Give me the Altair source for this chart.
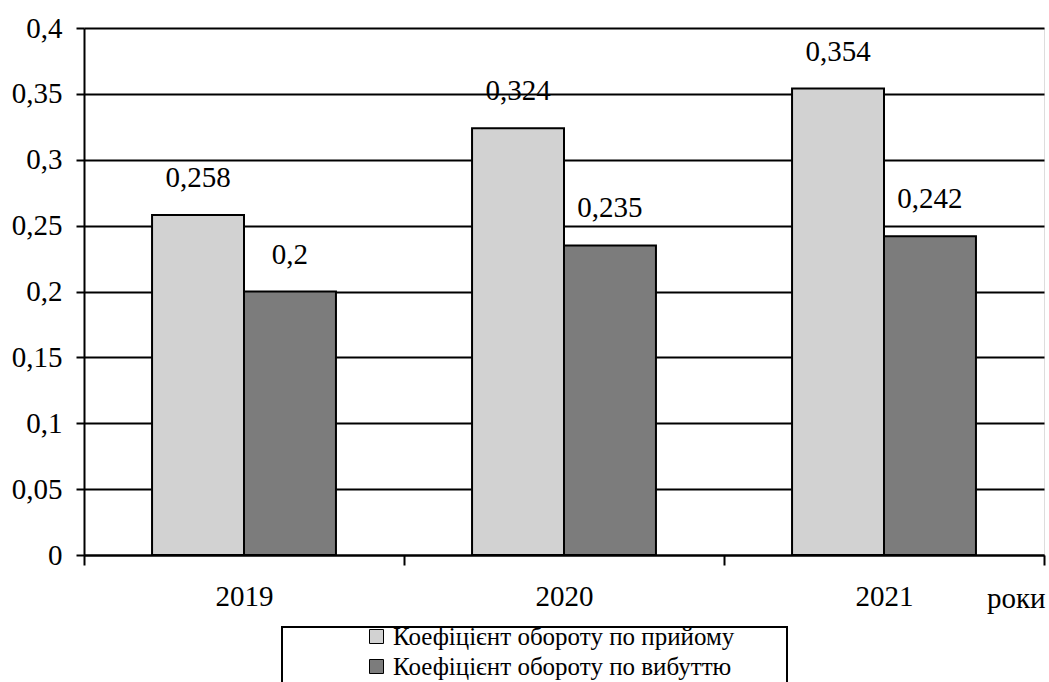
import altair as alt
import pandas as pd

years = ["2019", "2020", "2021"]
series = ["Коефіцієнт обороту по прийому", "Коефіцієнт обороту по вибуттю"]
intake = [0.258, 0.324, 0.354]
leaving = [0.2, 0.235, 0.242]
y_ticks = [0, 0.05, 0.1, 0.15, 0.2, 0.25, 0.3, 0.35, 0.4]

rows = []
for i, yr in enumerate(years):
    for s, vals in zip(series, [intake, leaving]):
        rows.append({"year": yr, "series": s, "value": vals[i],
                     "label": str(vals[i]).replace(".", ",")})
df = pd.DataFrame(rows)

FONT = "Liberation Serif, Times New Roman, serif"
FS = 29

x_enc = alt.X("year:N", sort=years, title="роки",
              scale=alt.Scale(paddingInner=0, paddingOuter=0),
              axis=alt.Axis(labelAngle=0, labelFont=FONT, labelFontSize=FS,
                            labelColor="black", labelPadding=17,
                            tickSize=10, tickColor="black", tickWidth=2,
                            tickBand="extent", domainColor="black", domainWidth=2,
                            titleFont=FONT, titleFontSize=FS, titleFontWeight="normal",
                            titleColor="black", titleX=961, titleY=52,
                            titleAlign="right", titleBaseline="alphabetic"))
xo_enc = alt.XOffset("series:N", sort=series,
                     scale=alt.Scale(paddingInner=0, paddingOuter=0.74))
y_enc = alt.Y("value:Q", title=None,
              scale=alt.Scale(domain=[0, 0.4], nice=False),
              axis=alt.Axis(values=y_ticks,
                            labelExpr="replace(format(datum.value, '.2~f'), '.', ',')",
                            labelFont=FONT, labelFontSize=FS, labelColor="black",
                            labelPadding=14, tickSize=8, tickColor="black", tickWidth=2,
                            grid=True, gridColor="black", gridWidth=2,
                            domainColor="black", domainWidth=2))

bars = alt.Chart(df).mark_bar(stroke="black", strokeWidth=2).encode(
    x=x_enc,
    xOffset=xo_enc,
    y=y_enc,
    color=alt.Color("series:N", sort=series,
                    scale=alt.Scale(domain=series, range=["#d2d2d2", "#7c7c7c"]),
                    legend=alt.Legend(title=None, orient="none", legendX=280, legendY=596,
                                      labelFont=FONT, labelFontSize=25, labelColor="black",
                                      labelLimit=0, symbolType="square", symbolSize=196,
                                      symbolStrokeColor="black", symbolStrokeWidth=1,
                                      labelOffset=4, rowPadding=4, padding=0)),
)

labels = alt.Chart(df).mark_text(font=FONT, fontSize=FS, color="black",
                                 baseline="middle", dy=-37).encode(
    x=alt.X("year:N", sort=years),
    xOffset=alt.XOffset("series:N", sort=series),
    y="value:Q",
    text="label:N",
)

box = alt.Chart(pd.DataFrame({"b": [0]})).mark_rect(
    filled=False, stroke="black", strokeWidth=2).encode(
    x=alt.value(198), x2=alt.value(703), y=alt.value(599), y2=alt.value(720))

chart = alt.layer(bars, labels, box).properties(
    width=960, height=527,
    autosize=alt.AutoSizeParams(type="none"),
    padding={"left": 84, "top": 28, "right": 5, "bottom": 127},
).configure_view(stroke=None).configure(background="white")

chart.save("out.html", embed_options={"renderer": "svg", "actions": False})
